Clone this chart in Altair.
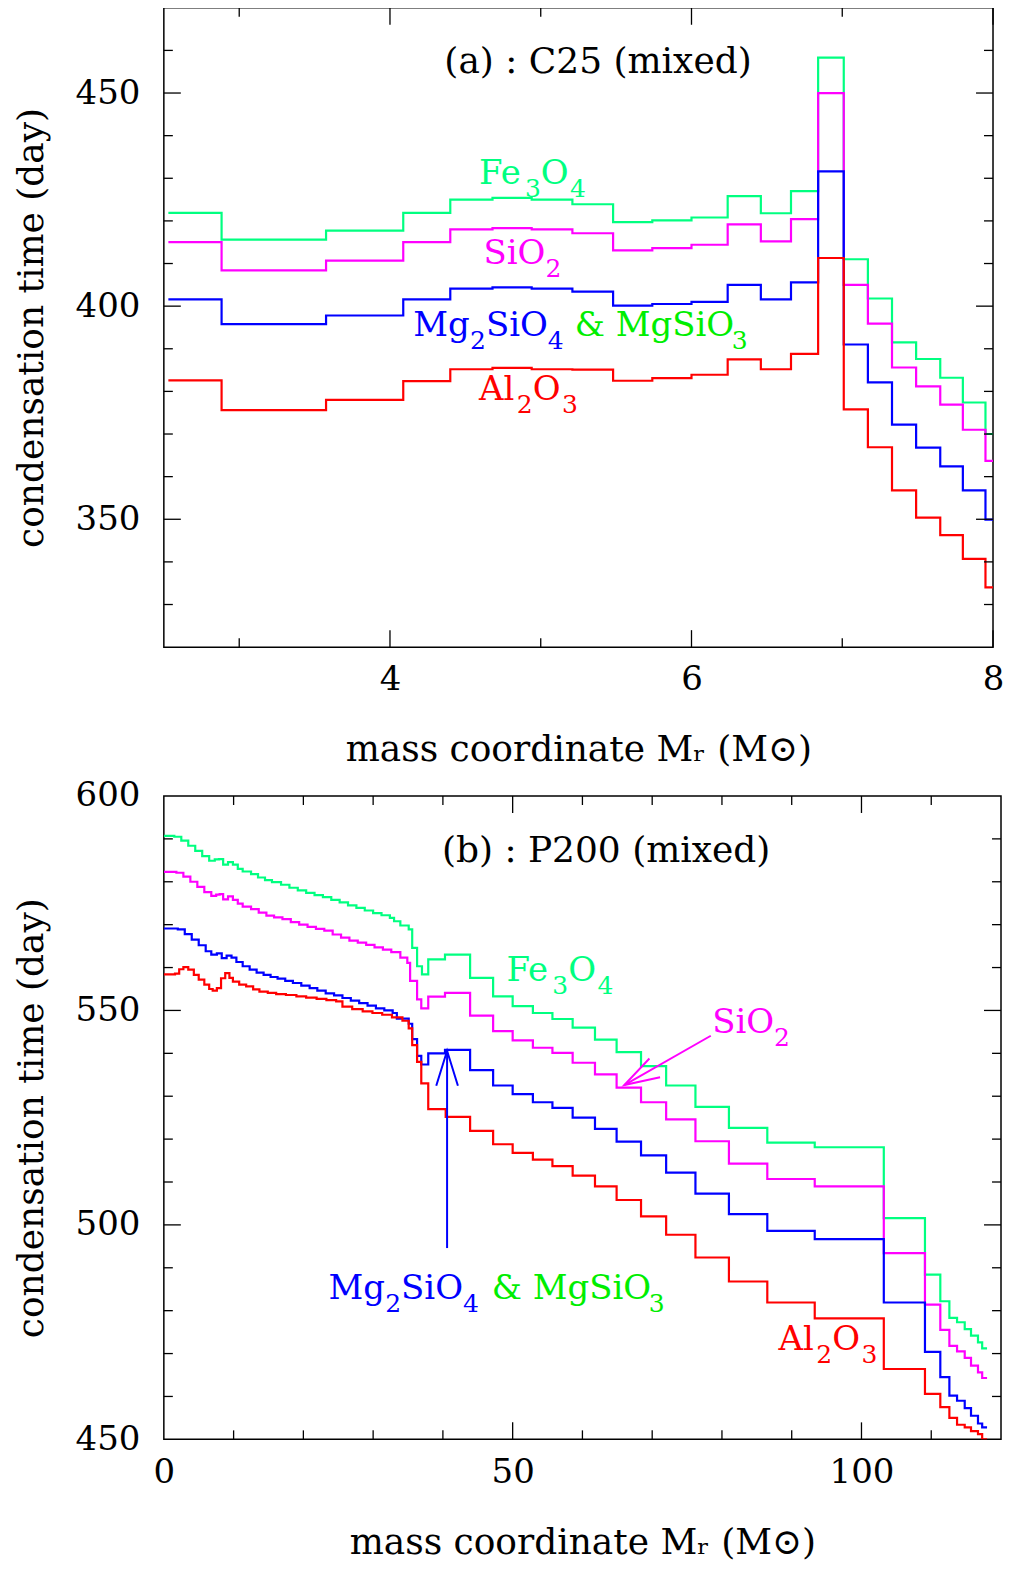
import altair as alt
import pandas as pd

FONT = "DejaVu Serif"
SERIES = ["Fe3O4", "SiO2", "Mg2SiO4", "Al2O3"]
COLORS = ["#00ff80", "#ff00ff", "#0000ff", "#ff0000"]
MGSIO3_GREEN = "#00ee00"

# ---------------- panel (a) : C25 (mixed) ----------------
top_edges = [2.53, 2.883, 3.576, 4.088, 4.40, 4.68, 4.94, 5.21, 5.48, 5.74, 6.0,
             6.24, 6.46, 6.66, 6.84, 7.01, 7.17, 7.33, 7.49, 7.65, 7.80, 7.95, 8.0]
top_fe3o4 = [421.9, 415.6, 417.7, 421.9, 425.0, 425.4, 425.0, 423.9, 419.7, 420.1, 420.8,
             425.8, 421.8, 427.0, 458.3, 411.0, 401.8, 391.5, 387.6, 383.2, 377.4, 370.0]
top_sio2 = [415.0, 408.4, 410.7, 415.0, 418.0, 418.3, 418.0, 417.1, 413.1, 413.6, 414.4,
            419.2, 415.2, 420.4, 450.0, 405.0, 395.9, 385.6, 381.2, 376.9, 371.0, 363.7]
top_mg2sio4 = [401.6, 395.8, 397.8, 401.6, 404.1, 404.4, 404.1, 403.4, 400.1, 400.5, 401.0,
               405.0, 401.6, 405.6, 431.6, 391.0, 382.1, 372.2, 366.8, 362.4, 356.8, 349.9]
top_al2o3 = [382.6, 375.6, 378.0, 382.4, 385.2, 385.5, 385.2, 385.1, 382.5, 383.1, 383.9,
             387.5, 385.2, 388.8, 411.3, 375.8, 366.9, 356.8, 350.4, 346.3, 340.7, 334.0]

# ---------------- panel (b) : P200 (mixed) ----------------
bot_fe3o4_x = [0, 1.5, 2.5, 3.5, 4.5, 5.5, 6.5, 7.3, 7.9, 8.5, 9.2, 9.9, 10.6, 11.3, 12.5, 13.5,
               14.5, 15.5, 16.8, 18.0, 19.2, 20.4, 21.6, 22.8, 24.0, 25.2, 26.4, 27.6, 28.8, 30.0,
               31.2, 32.4, 33.0, 33.9, 35.1, 35.6, 36.3, 37.0, 37.9, 40.3, 43.9, 47.2, 50.0, 52.9,
               55.7, 58.6, 61.8, 64.9, 68.4, 72.0, 76.2, 81.0, 86.5, 93.3, 103.2, 109.1, 111.3,
               112.6, 113.7, 114.8, 115.7, 116.7, 117.3, 118.0]
bot_fe3o4_y = [590.7, 590.5, 589.6, 588.4, 587.2, 586.0, 584.9, 585.2, 585.3, 584.0, 584.6, 584.0,
               583.0, 582.4, 581.8, 581.0, 580.4, 579.9, 579.3, 578.6, 578.0, 577.4, 576.9, 576.4,
               575.8, 575.2, 574.5, 573.9, 573.3, 572.7, 572.2, 571.6, 570.8, 569.8, 568.9, 564.6,
               560.3, 558.4, 561.9, 563.0, 557.6, 553.3, 551.0, 549.4, 548.0, 546.0, 543.2, 540.3,
               537.0, 532.5, 527.5, 522.6, 519.2, 518.1, 501.6, 488.4, 482.2, 478.3, 477.3, 475.7,
               474.2, 472.6, 471.2, 471.2]
bot_sio2_x = [0, 1.8, 2.8, 3.8, 4.8, 5.8, 6.8, 7.5, 8.0, 8.5, 9.2, 9.9, 10.6, 11.3, 12.5, 13.6,
              14.7, 15.8, 17.0, 18.2, 19.4, 20.6, 21.8, 23.0, 24.2, 25.4, 26.6, 27.8, 29.0, 30.2,
              31.4, 32.6, 33.9, 34.9, 35.3, 36.3, 36.9, 37.9, 40.3, 43.9, 47.2, 50.0, 52.9, 55.7,
              58.6, 61.8, 64.9, 68.4, 72.0, 76.2, 81.0, 86.5, 93.3, 103.2, 109.1, 111.3, 112.6,
              113.7, 114.8, 115.7, 116.7, 117.3, 118.0]
bot_sio2_y = [582.3, 582.1, 581.2, 580.0, 578.8, 577.6, 576.7, 577.0, 577.1, 575.9, 576.6, 575.8,
              574.9, 574.2, 573.6, 572.8, 572.1, 571.7, 571.3, 570.6, 570.0, 569.5, 569.0, 568.6,
              567.7, 567.0, 566.3, 565.8, 565.3, 564.7, 564.2, 563.6, 562.3, 561.1, 556.9, 552.6,
              550.5, 553.2, 554.1, 548.8, 545.2, 543.0, 541.3, 540.1, 537.8, 535.1, 532.0, 528.6,
              524.6, 519.5, 514.3, 510.7, 509.0, 493.4, 481.4, 475.5, 471.8, 470.5, 469.0, 467.2,
              465.6, 464.3, 464.3]
bot_mg2sio4_x = [0, 2.0, 3.0, 4.0, 5.0, 6.0, 6.8, 7.6, 8.3, 9.0, 9.7, 10.4, 11.3, 12.3, 13.3,
                 14.3, 15.3, 16.3, 17.4, 18.5, 19.7, 20.9, 22.0, 23.2, 24.4, 25.6, 26.8, 28.0,
                 29.2, 30.4, 31.6, 32.8, 33.4, 35.1, 35.6, 36.3, 36.9, 37.9, 40.3, 43.9, 47.2,
                 50.0, 52.9, 55.7, 58.6, 61.8, 64.9, 68.4, 72.0, 76.2, 81.0, 86.5, 93.3, 103.2,
                 109.1, 111.3, 112.6, 113.7, 114.8, 115.7, 116.7, 117.3, 118.0]
bot_mg2sio4_y = [569.1, 568.9, 567.8, 566.5, 565.2, 563.8, 563.0, 563.3, 562.2, 562.8, 562.3,
                 561.3, 560.3, 559.5, 558.8, 558.3, 557.8, 557.4, 556.9, 556.4, 555.8, 555.2,
                 554.6, 554.0, 553.5, 552.9, 552.3, 551.7, 551.1, 550.5, 550.0, 549.4, 548.1,
                 546.9, 543.3, 539.4, 537.4, 540.0, 540.8, 536.1, 532.5, 530.5, 528.6, 527.3,
                 525.0, 522.4, 519.4, 516.2, 512.2, 507.3, 502.5, 498.6, 496.7, 481.9, 470.4,
                 464.5, 460.2, 459.0, 457.3, 455.5, 453.7, 452.8, 452.8]
bot_al2o3_x = [0, 1.6, 2.2, 2.8, 3.5, 4.3, 5.0, 5.8, 6.5, 7.0, 7.6, 8.2, 8.8, 9.4, 9.9, 10.8,
               11.8, 12.8, 13.7, 14.9, 16.1, 17.5, 19.0, 20.4, 21.9, 23.3, 24.7, 25.6, 27.0, 28.5,
               29.9, 31.3, 32.7, 34.2, 35.1, 35.6, 36.3, 36.9, 37.9, 40.4, 43.9, 47.2, 50.0, 52.9,
               55.7, 58.6, 61.8, 64.9, 68.4, 72.0, 76.2, 81.0, 86.5, 93.3, 103.2, 109.1, 111.3,
               112.6, 113.7, 114.8, 115.7, 116.7, 117.3, 118.0]
bot_al2o3_y = [558.4, 558.6, 559.6, 560.1, 559.5, 558.3, 557.2, 556.0, 555.0, 554.6, 555.2, 557.5,
               558.7, 557.6, 556.7, 556.0, 555.6, 554.9, 554.4, 554.1, 553.8, 553.6, 553.3, 553.0,
               552.7, 552.4, 552.1, 550.9, 550.3, 549.8, 549.4, 549.0, 548.4, 547.6, 545.8, 541.9,
               538.0, 533.0, 527.0, 525.2, 521.9, 518.8, 516.8, 515.2, 513.7, 511.5, 509.0, 505.8,
               502.0, 497.7, 492.4, 486.8, 481.9, 478.2, 466.4, 460.6, 457.5, 455.0, 453.4, 452.8,
               451.9, 451.2, 450.0, 450.0]

# ---------------- axes / ticks ----------------
top_x_domain = [2.5, 8.0]
top_y_domain = [320, 470]
bot_x_domain = [0, 120]
bot_y_domain = [450, 600]
top_x_labels = [4, 6, 8]
top_y_labels = [350, 400, 450]
bot_x_labels = [0, 50, 100]
bot_y_labels = [450, 500, 550, 600]
top_x_major = [4, 6, 8]
top_x_minor = [3, 5, 7]
top_y_major = [350, 400, 450]
top_y_minor = [330, 340, 360, 370, 380, 390, 410, 420, 430, 440, 460]
bot_x_major = [50, 100]
bot_x_minor = [10, 20, 30, 40, 60, 70, 80, 90, 110]
bot_y_major = [500, 550]
bot_y_minor = [460, 470, 480, 490, 510, 520, 530, 540, 560, 570, 580, 590]
X_TITLE = "mass coordinate Mᵣ (M⊙)"
Y_TITLE = "condensation time (day)"

# ---------------- annotations (data coordinates) ----------------
top_title = ["(a) : C25 (mixed)"]; top_title_x = [5.38]; top_title_y = [454.6]
bot_title = ["(b) : P200 (mixed)"]; bot_title_x = [63.4]; bot_title_y = [584.6]

# chemical labels: pieces of (text, is_subscript)
FE3O4 = [("Fe", 0), ("3", 1), ("O", 0), ("4", 1)]
SIO2 = [("SiO", 0), ("2", 1)]
MG2SIO4 = [("Mg", 0), ("2", 1), ("SiO", 0), ("4", 1)]
MGSIO3 = [("& MgSiO", 0), ("3", 1)]
AL2O3 = [("Al", 0), ("2", 1), ("O", 0), ("3", 1)]
lab_parts = [FE3O4, SIO2, MG2SIO4, MGSIO3, AL2O3]
lab_color = ["#00ff80", "#ff00ff", "#0000ff", MGSIO3_GREEN, "#ff0000"]
top_lab_x = [4.59, 4.62, 4.155, 5.225, 4.59]
top_lab_y = [428.6, 409.8, 393.0, 393.0, 378.0]
bot_lab_x = [49.1, 78.6, 23.6, 47.0, 88.1]
bot_lab_y = [556.9, 544.8, 482.8, 482.8, 470.9]

# arrows: tail -> tip
arrow_x1 = [40.6, 78.4]
arrow_y1 = [494.6, 544.1]
arrow_x2 = [40.6, 66.0]
arrow_y2 = [540.6, 532.6]
arrow_angle = [0, 240.6]
arrow_color = ["#0000ff", "#ff00ff"]

ARROW_HEAD = "M -0.62 2 L 0 0 L 0.62 2"
FS = 34        # tick labels / chemical labels
FS_TITLE = 36  # axis titles and panel titles
FS_SUB = 25
SUB_DY = 13
# approximate DejaVu Serif advance widths (em)
GLYPH_W = {"F": 0.686, "e": 0.592, "O": 0.787, "S": 0.643, "i": 0.320, "M": 0.954,
           "g": 0.640, "A": 0.722, "l": 0.320, "&": 0.890, " ": 0.318}


def text_width(s, fs):
    return sum(GLYPH_W.get(ch, 0.636) for ch in s) * fs


def series_frame(xs_list, ys_list):
    rows = []
    for name, xs, ys in zip(SERIES, xs_list, ys_list):
        for i, (x, y) in enumerate(zip(xs, ys)):
            rows.append({"species": name, "x": x, "y": y, "i": i})
    return pd.DataFrame(rows)


top_df = series_frame([top_edges] * 4,
                      [v + [v[-1]] for v in [top_fe3o4, top_sio2, top_mg2sio4, top_al2o3]])
bot_df = series_frame([bot_fe3o4_x, bot_sio2_x, bot_mg2sio4_x, bot_al2o3_x],
                      [bot_fe3o4_y, bot_sio2_y, bot_mg2sio4_y, bot_al2o3_y])


class Ctx:
    def __init__(self, xsc, ysc, xax, yax):
        self.xsc, self.ysc, self.xax, self.yax = xsc, ysc, xax, yax

    def X(self, f):
        return alt.X(f, scale=self.xsc, axis=self.xax, title=X_TITLE)

    def Y(self, f):
        return alt.Y(f, scale=self.ysc, axis=self.yax, title=Y_TITLE)


def tick_layers(c, xs_major, xs_minor, ys_major, ys_minor, W, H, LMAJ=17, LMIN=9):
    layers = []
    for vals, L in [(xs_major, LMAJ), (xs_minor, LMIN)]:
        d = pd.DataFrame({"v": vals})
        base = alt.Chart(d).mark_rule(color="black", strokeWidth=1.3)
        layers.append(base.encode(x=c.X("v:Q"), y=alt.value(H), y2=alt.value(H - L)))
        layers.append(base.encode(x=c.X("v:Q"), y=alt.value(0), y2=alt.value(L)))
    for vals, L in [(ys_major, LMAJ), (ys_minor, LMIN)]:
        d = pd.DataFrame({"v": vals})
        base = alt.Chart(d).mark_rule(color="black", strokeWidth=1.3)
        layers.append(base.encode(y=c.Y("v:Q"), x=alt.value(0), x2=alt.value(L)))
        layers.append(base.encode(y=c.Y("v:Q"), x=alt.value(W), x2=alt.value(W - L)))
    return layers


def title_layer(c, t, x, y):
    d = pd.DataFrame({"t": t, "x": x, "y": y})
    return alt.Chart(d).mark_text(font=FONT, fontSize=FS_TITLE, color="black", align="center",
                                  baseline="alphabetic").encode(
        x=c.X("x:Q"), y=c.Y("y:Q"), text="t:N")


def label_layers(c, xs, ys):
    layers = []
    for parts, x, y, col in zip(lab_parts, xs, ys, lab_color):
        off = 0.0
        for txt, sub in parts:
            fs = FS_SUB if sub else FS
            if sub:
                off += 2.5
            d = pd.DataFrame({"t": [txt], "x": [x], "y": [y]})
            layers.append(alt.Chart(d).mark_text(
                font=FONT, fontSize=fs, color=col, align="left", baseline="alphabetic",
                dx=round(off, 1), dy=SUB_DY if sub else 0).encode(
                x=c.X("x:Q"), y=c.Y("y:Q"), text="t:N"))
            off += text_width(txt, fs)
    return layers


def arrows(c):
    out = []
    for x1, y1, x2, y2, ang, col in zip(arrow_x1, arrow_y1, arrow_x2, arrow_y2, arrow_angle,
                                         arrow_color):
        d = pd.DataFrame({"x1": [x1], "y1": [y1], "x2": [x2], "y2": [y2]})
        out.append(alt.Chart(d).mark_rule(color=col, strokeWidth=2).encode(
            x=c.X("x1:Q"), y=c.Y("y1:Q"), x2="x2:Q", y2="y2:Q"))
        out.append(alt.Chart(d).mark_point(shape=ARROW_HEAD, size=1225, angle=ang, filled=False,
                                           color=col, strokeWidth=2, opacity=1).encode(
            x=c.X("x2:Q"), y=c.Y("y2:Q")))
    return out


def panel(df, xdom, ydom, xlabels, ylabels, ticks, title, tx, ty, lx, ly, W, H, extra=None,
          xlabpad=15, xtitlepad=36):
    xsc = alt.Scale(domain=xdom, nice=False, zero=False)
    ysc = alt.Scale(domain=ydom, nice=False, zero=False)
    xax = alt.Axis(values=xlabels, format="d", labelFlush=False, labelPadding=xlabpad,
                   titlePadding=xtitlepad, labelOverlap=False)
    yax = alt.Axis(values=ylabels, format="d", labelPadding=24, titlePadding=25,
                   labelOverlap=False)
    c = Ctx(xsc, ysc, xax, yax)
    lines = alt.Chart(df).mark_line(interpolate="step-after", strokeWidth=2.2, clip=True).encode(
        x=c.X("x:Q"), y=c.Y("y:Q"),
        color=alt.Color("species:N", scale=alt.Scale(domain=SERIES, range=COLORS), legend=None),
        order=alt.Order("i:Q"),
    )
    layers = [lines]
    layers += tick_layers(c, *ticks, W, H)
    layers.append(title_layer(c, title, tx, ty))
    layers += label_layers(c, lx, ly)
    if extra:
        layers += extra(c)
    return alt.layer(*layers).properties(width=W, height=H)


top_chart = panel(top_df, top_x_domain, top_y_domain, top_x_labels, top_y_labels,
                  (top_x_major, top_x_minor, top_y_major, top_y_minor),
                  top_title, top_title_x, top_title_y, top_lab_x, top_lab_y, 830, 640)
bot_chart = panel(bot_df, bot_x_domain, bot_y_domain, bot_x_labels, bot_y_labels,
                  (bot_x_major, bot_x_minor, bot_y_major, bot_y_minor),
                  bot_title, bot_title_x, bot_title_y, bot_lab_x, bot_lab_y, 838, 644,
                  extra=arrows, xlabpad=16, xtitlepad=36)

chart = alt.vconcat(top_chart, bot_chart, spacing=10).properties(
    padding={"left": 4, "top": -3, "right": 0, "bottom": 0}
).configure_view(stroke="black", strokeWidth=1.5).configure_axis(
    labelFont=FONT, labelFontSize=FS, labelColor="black",
    titleFont=FONT, titleFontSize=FS_TITLE, titleFontWeight="normal", titleColor="black",
    domain=False, ticks=False, tickSize=0, grid=False,
)

chart.save("out.html", embed_options={"renderer": "svg", "actions": False})
